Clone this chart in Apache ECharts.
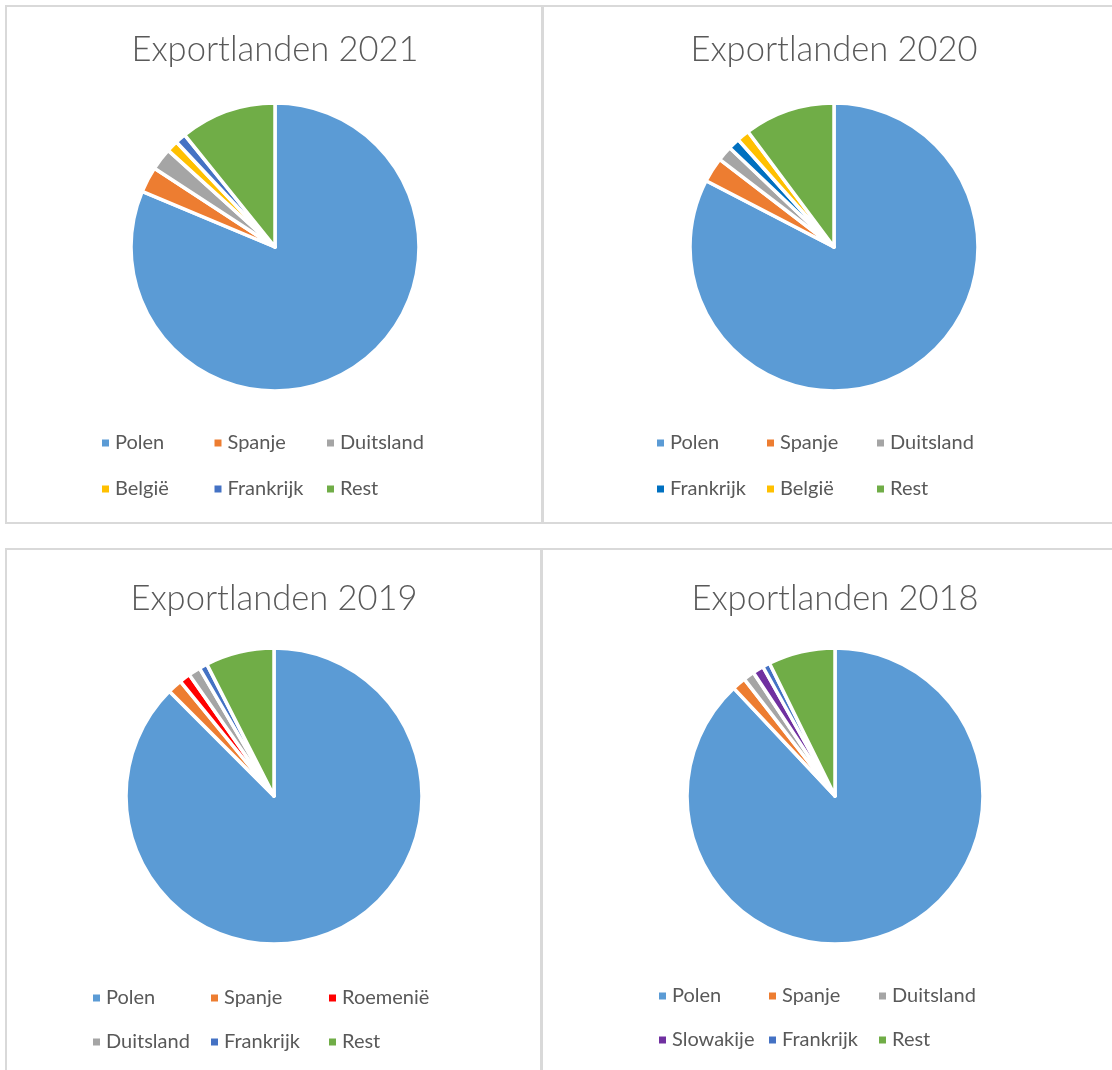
<!DOCTYPE html>
<html>
<head>
<meta charset="utf-8">
<script src="https://cdn.jsdelivr.net/npm/echarts@6/dist/echarts.min.js"></script>
<style>
  html, body { margin: 0; padding: 0; background: #fff; }
  #chart { width: 1112px; height: 1070px; }
</style>
</head>
<body>
<div id="chart"></div>
<script>
// shares per year (percent)
const countries2021 = ['Polen', 'Spanje', 'Duitsland', 'België', 'Frankrijk', 'Rest'];
const values2021 = [81.3, 2.9, 2.5, 1.3, 1.2, 10.8];

const countries2020 = ['Polen', 'Spanje', 'Duitsland', 'Frankrijk', 'België', 'Rest'];
const values2020 = [82.6, 2.8, 1.7, 1.3, 1.4, 10.2];

const countries2019 = ['Polen', 'Spanje', 'Roemenië', 'Duitsland', 'Frankrijk', 'Rest'];
const values2019 = [87.5, 1.6, 1.2, 1.3, 0.9, 7.5];

const countries2018 = ['Polen', 'Spanje', 'Duitsland', 'Slowakije', 'Frankrijk', 'Rest'];
const values2018 = [88.0, 1.5, 1.2, 1.2, 0.8, 7.3];

// office palette
const colorOf = {
  Polen: '#5B9BD5',
  Spanje: '#ED7D31',
  Duitsland: '#A5A5A5',
  'België': '#FFC000',
  Frankrijk: '#4472C4',
  'Roemenië': '#FF0000',
  Slowakije: '#7030A0',
  Rest: '#70AD47',
};

const panels = [
  { title: 'Exportlanden 2021', names: countries2021, values: values2021, colors: {},
    cx: 275, cy: 247, r: 144, box: [6, 6, 536, 517], legendLeft: 100, col: 111.5, legendTop: 420, row: 46 },
  { title: 'Exportlanden 2020', names: countries2020, values: values2020, colors: { Frankrijk: '#0070C0' },
    cx: 834, cy: 247, r: 144, box: [543, 6, 600, 517], legendLeft: 655, col: 109, legendTop: 420, row: 46 },
  { title: 'Exportlanden 2019', names: countries2019, values: values2019, colors: {},
    cx: 274, cy: 796, r: 148, box: [6, 549, 535, 600], legendLeft: 91, col: 117, legendTop: 976, row: 44 },
  { title: 'Exportlanden 2018', names: countries2018, values: values2018, colors: {},
    cx: 835, cy: 796, r: 148, box: [542, 549, 600, 600], legendLeft: 657, col: 109, legendTop: 974, row: 44 },
];

const textColor = '#595959';
const fontFamily = 'Lato, "Open Sans", sans-serif';

const chart = echarts.init(document.getElementById('chart'));

chart.setOption({
  animation: false,
  backgroundColor: '#fff',
  graphic: panels.map((p) => ({
    type: 'rect',
    silent: true,
    z: -1,
    shape: { x: p.box[0], y: p.box[1], width: p.box[2], height: p.box[3] },
    style: { fill: '#fff', stroke: '#D9D9D9', lineWidth: 2 },
  })),
  title: panels.map((p) => ({
    text: p.title,
    left: p.cx,
    top: p.cy - 215,
    textAlign: 'center',
    padding: 0,
    textStyle: { color: textColor, fontFamily, fontSize: 34.5, fontWeight: 300 },
  })),
  legend: panels.map((p) => ({
    left: p.legendLeft,
    top: p.legendTop,
    width: p.col * 3 + 12,
    padding: 0,
    itemGap: 0,
    itemWidth: 9,
    itemHeight: 9,
    icon: 'rect',
    selectedMode: false,
    textStyle: {
      color: textColor,
      fontFamily,
      fontSize: 20,
      width: p.col - 14,
      lineHeight: p.row,
    },
    data: p.names.map((n) => ({
      name: n,
      itemStyle: { color: p.colors[n] || colorOf[n] },
    })),
  })),
  series: panels.map((p) => ({
    type: 'pie',
    center: [p.cx, p.cy],
    radius: p.r,
    startAngle: 90,
    clockwise: true,
    silent: true,
    label: { show: false },
    labelLine: { show: false },
    itemStyle: { borderColor: '#fff', borderWidth: 3.5 },
    data: p.names.map((n, i) => ({
      name: n,
      value: p.values[i],
      itemStyle: { color: p.colors[n] || colorOf[n] },
    })),
  })),
});
</script>
</body>
</html>
